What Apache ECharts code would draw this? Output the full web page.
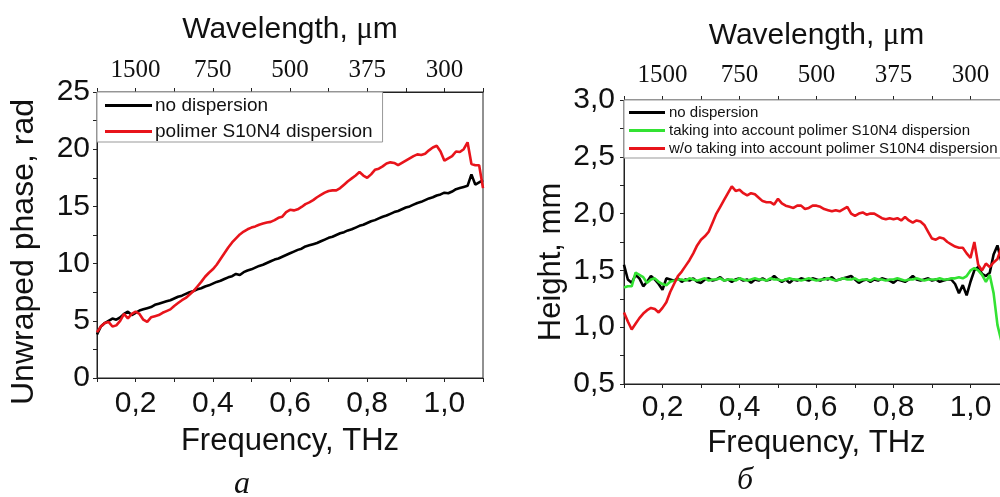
<!DOCTYPE html>
<html><head><meta charset="utf-8">
<script src="https://cdn.jsdelivr.net/npm/echarts@6/dist/echarts.min.js"></script>
<style>html,body{margin:0;padding:0;background:#fff}#c{width:1000px;height:497px}</style>
</head><body><div id="c"></div>
<script>
// Frequency grid, THz
const freq = [0.10,0.11,0.12,0.13,0.14,0.15,0.16,0.17,0.18,0.19,
0.20,0.21,0.22,0.23,0.24,0.25,0.26,0.27,0.28,0.29,
0.30,0.31,0.32,0.33,0.34,0.35,0.36,0.37,0.38,0.39,
0.40,0.41,0.42,0.43,0.44,0.45,0.46,0.47,0.48,0.49,
0.50,0.51,0.52,0.53,0.54,0.55,0.56,0.57,0.58,0.59,
0.60,0.61,0.62,0.63,0.64,0.65,0.66,0.67,0.68,0.69,
0.70,0.71,0.72,0.73,0.74,0.75,0.76,0.77,0.78,0.79,
0.80,0.81,0.82,0.83,0.84,0.85,0.86,0.87,0.88,0.89,
0.90,0.91,0.92,0.93,0.94,0.95,0.96,0.97,0.98,0.99,
1.00,1.01,1.02,1.03,1.04,1.05,1.06,1.07,1.08,1.09,
1.10];

// Panel a: unwrapped phase, rad
const phaseNoDisp = [3.8,4.5,4.8,5.0,5.2,5.1,5.3,5.6,5.8,5.5,
5.7,5.9,6.0,6.1,6.2,6.4,6.5,6.6,6.7,6.8,
6.95,7.1,7.2,7.35,7.5,7.6,7.75,7.85,8.0,8.1,
8.25,8.4,8.5,8.65,8.8,8.9,9.1,9.0,9.25,9.4,
9.5,9.65,9.8,9.9,10.05,10.2,10.35,10.45,10.6,10.75,
10.9,11.05,11.2,11.3,11.5,11.6,11.7,11.8,11.95,12.1,
12.25,12.35,12.5,12.65,12.75,12.9,13.0,13.15,13.3,13.4,
13.55,13.7,13.8,13.95,14.1,14.2,14.35,14.5,14.6,14.75,
14.9,15.0,15.15,15.3,15.4,15.55,15.7,15.8,15.95,16.05,
16.2,16.15,16.3,16.5,16.6,16.7,16.8,17.8,16.9,17.1,
17.3];
const phaseS10N4 = [4.0,4.5,4.8,4.9,4.5,4.6,5.0,5.6,5.2,5.6,
5.8,5.6,5.1,4.9,5.3,5.4,5.5,5.7,5.85,6.0,
6.3,6.55,6.8,7.0,7.3,7.6,8.0,8.4,8.85,9.2,
9.5,9.9,10.4,10.9,11.4,11.85,12.2,12.55,12.8,13.0,
13.15,13.25,13.4,13.5,13.6,13.65,13.8,14.0,14.1,14.5,
14.7,14.65,14.75,14.95,15.2,15.35,15.55,15.8,16.0,16.2,
16.35,16.4,16.4,16.6,16.9,17.2,17.45,17.7,18.0,17.7,
17.5,17.8,18.2,18.3,18.5,18.75,18.85,18.8,18.6,18.8,
19.0,19.2,19.4,19.55,19.5,19.6,19.9,20.15,20.3,19.8,
19.0,19.2,19.4,19.8,19.75,20.0,20.6,18.7,18.6,18.6,
16.6];

// Panel b: height, mm
const heightNoDisp = [1.55,1.42,1.39,1.46,1.43,1.36,1.40,1.45,1.42,1.38,
1.33,1.43,1.42,1.41,1.43,1.40,1.42,1.41,1.43,1.40,
1.39,1.42,1.43,1.41,1.42,1.44,1.41,1.42,1.40,1.42,
1.43,1.41,1.42,1.39,1.42,1.41,1.43,1.41,1.42,1.45,
1.42,1.40,1.42,1.39,1.42,1.41,1.43,1.42,1.41,1.43,
1.42,1.41,1.43,1.42,1.44,1.41,1.42,1.43,1.44,1.45,
1.42,1.39,1.41,1.42,1.40,1.42,1.41,1.43,1.42,1.41,
1.39,1.42,1.41,1.40,1.42,1.45,1.42,1.41,1.42,1.43,
1.41,1.42,1.40,1.41,1.42,1.42,1.38,1.30,1.37,1.28,
1.40,1.50,1.53,1.47,1.45,1.48,1.64,1.72,1.58,1.55,
1.50];
const heightWithDisp = [1.35,1.36,1.36,1.48,1.46,1.44,1.39,1.42,1.43,1.40,
1.38,1.37,1.40,1.41,1.42,1.42,1.41,1.43,1.42,1.41,
1.42,1.43,1.41,1.42,1.42,1.43,1.41,1.42,1.42,1.41,
1.43,1.42,1.41,1.42,1.43,1.42,1.42,1.41,1.43,1.42,
1.42,1.41,1.42,1.43,1.42,1.42,1.41,1.42,1.43,1.42,
1.41,1.42,1.42,1.43,1.42,1.41,1.42,1.43,1.42,1.42,
1.43,1.41,1.42,1.42,1.41,1.43,1.42,1.42,1.41,1.42,
1.42,1.43,1.42,1.41,1.42,1.42,1.43,1.42,1.41,1.42,
1.42,1.42,1.43,1.42,1.42,1.43,1.43,1.44,1.43,1.45,
1.50,1.52,1.50,1.46,1.40,1.46,1.30,1.02,0.88,0.70,
0.55];
const heightWithoutDisp = [1.13,1.05,0.98,1.03,1.08,1.12,1.15,1.17,1.16,1.13,
1.17,1.22,1.31,1.38,1.45,1.49,1.54,1.59,1.65,1.72,
1.77,1.80,1.84,1.92,2.00,2.06,2.12,2.18,2.24,2.20,
2.21,2.18,2.16,2.18,2.17,2.14,2.11,2.10,2.10,2.08,
2.13,2.09,2.07,2.06,2.05,2.07,2.07,2.04,2.05,2.07,
2.07,2.06,2.04,2.03,2.02,2.03,2.02,2.04,2.06,2.00,
1.98,2.00,2.01,1.99,2.00,2.00,1.98,1.96,1.95,1.96,
1.95,1.96,1.94,1.97,1.94,1.92,1.94,1.93,1.90,1.84,
1.78,1.77,1.79,1.78,1.75,1.73,1.71,1.70,1.70,1.65,
1.61,1.75,1.55,1.50,1.56,1.53,1.57,1.60,1.70,1.72,
1.75];

// Tick labels
const freqTicks = [0.2, 0.4, 0.6, 0.8, 1.0];
const freqTickLabels = ['0,2', '0,4', '0,6', '0,8', '1,0'];
const wavelengthTickLabels = ['1500', '750', '500', '375', '300'];

const F = '"Liberation Sans", Arial, sans-serif';
const SERIF = '"Liberation Serif", "Times New Roman", serif';
const AX = '#222';

function tickLookup(labels) {
  return function (v) {
    for (let i = 0; i < freqTicks.length; i++) {
      if (Math.abs(v - freqTicks[i]) < 1e-6) return labels[i];
    }
    return '';
  };
}
const pairs = arr => freq.map((f, i) => [f, arr[i]]);
const comma1 = v => v.toFixed(1).replace('.', ',');

function bottomAxis(grid, gap, margin) {
  return {
    gridIndex: grid, type: 'value', position: 'bottom', min: 0.1, max: 1.1, interval: 0.1,
    axisLine: { show: true, onZero: false, lineStyle: { color: AX, width: 1 } },
    axisTick: { show: true, inside: false, length: 4, lineStyle: { color: AX } },
    axisLabel: { formatter: tickLookup(freqTickLabels), fontSize: 30, fontFamily: F, color: '#111', margin: margin },
    splitLine: { show: false },
    name: 'Frequency, THz', nameLocation: 'middle', nameGap: gap,
    nameTextStyle: { fontSize: 31, fontFamily: F, color: '#111' }
  };
}
function topAxis(grid, gap, margin) {
  return {
    gridIndex: grid, type: 'value', position: 'top', min: 0.1, max: 1.1, interval: 0.1,
    axisLine: { show: true, onZero: false, lineStyle: { color: AX, width: 1 } },
    axisTick: { show: true, inside: false, length: 4, lineStyle: { color: AX } },
    axisLabel: { formatter: tickLookup(wavelengthTickLabels), fontSize: 25, fontFamily: SERIF, color: '#111', margin: margin },
    splitLine: { show: false },
    name: '{a|Wavelength, }{b|μ}{a|m}', nameLocation: 'middle', nameGap: gap,
    nameTextStyle: {
      fontSize: 30, fontFamily: F, color: '#111',
      rich: { a: { fontSize: 30, fontFamily: F, color: '#111' }, b: { fontSize: 31, fontFamily: SERIF, color: '#111' } }
    }
  };
}

const chart = echarts.init(document.getElementById('c'), null, { renderer: 'canvas' });
chart.setOption({
  animation: false,
  backgroundColor: '#fff',
  grid: [
    { left: 97, top: 92, width: 386, height: 286, show: true, borderColor: AX, borderWidth: 1, backgroundColor: 'transparent', outerBoundsMode: 'none', containLabel: false },
    { left: 624, top: 100, width: 385, height: 284, show: true, borderColor: AX, borderWidth: 1, backgroundColor: 'transparent', outerBoundsMode: 'none', containLabel: false }
  ],
  xAxis: [
    bottomAxis(0, 48, 11), topAxis(0, 47, 9),
    bottomAxis(1, 44, 9), topAxis(1, 49, 12)
  ],
  yAxis: [
    {
      gridIndex: 0, type: 'value', min: 0, max: 25, interval: 5,
      axisLine: { show: true, lineStyle: { color: AX, width: 1 } },
      axisTick: { show: true, inside: false, length: 4, lineStyle: { color: AX } },
      minorTick: { show: true, splitNumber: 2, length: 4, lineStyle: { color: AX } },
      axisLabel: { fontSize: 30, fontFamily: F, color: '#111', margin: 7 },
      splitLine: { show: false },
      name: 'Unwraped phase, rad', nameLocation: 'middle', nameGap: 57,
      nameTextStyle: { fontSize: 32, fontFamily: F, color: '#111', padding: [0, 34, 0, 0] }
    },
    {
      gridIndex: 1, type: 'value', min: 0.5, max: 3.0, interval: 0.5,
      axisLine: { show: true, lineStyle: { color: AX, width: 1 } },
      axisTick: { show: true, inside: false, length: 4, lineStyle: { color: AX } },
      minorTick: { show: true, splitNumber: 2, length: 4, lineStyle: { color: AX } },
      axisLabel: { fontSize: 30, fontFamily: F, color: '#111', margin: 9, formatter: comma1 },
      splitLine: { show: false },
      name: 'Height, mm', nameLocation: 'middle', nameGap: 57,
      nameTextStyle: { fontSize: 31, fontFamily: F, color: '#111', padding: [0, 40, 0, 0] }
    }
  ],
  legend: [
    {
      left: 97, top: 92, orient: 'vertical', icon: 'rect', itemWidth: 47, itemHeight: 3, itemGap: 7,
      data: ['no dispersion', 'polimer S10N4 dispersion'],
      textStyle: { fontSize: 19, fontFamily: F, color: '#111', padding: [0, 0, 0, -2] },
      padding: [4, 10, 1, 8], borderColor: '#999', borderWidth: 1, backgroundColor: '#fff',
      selectedMode: false
    },
    {
      left: 624, top: 100, orient: 'vertical', icon: 'rect', itemWidth: 36, itemHeight: 3, itemGap: 3,
      data: ['no dispersion', 'taking into account polimer S10N4 dispersion', 'w/o taking into account polimer S10N4 dispersion'],
      textStyle: { fontSize: 15, fontFamily: F, color: '#111', padding: [0, 0, 0, -1] },
      padding: [5, 10, 2, 5], borderColor: '#999', borderWidth: 1, backgroundColor: '#fff',
      selectedMode: false
    }
  ],
  graphic: [
    { type: 'text', x: 242, y: 485, style: { text: 'а', font: 'italic 32px "Liberation Serif", serif', fill: '#111', textAlign: 'center', textVerticalAlign: 'middle' } },
    { type: 'text', x: 745, y: 481, style: { text: 'б', font: 'italic 32px "Liberation Serif", serif', fill: '#111', textAlign: 'center', textVerticalAlign: 'middle' } }
  ],
  series: [
    { name: 'no dispersion', type: 'line', xAxisIndex: 0, yAxisIndex: 0, data: pairs(phaseNoDisp), showSymbol: false,
      color: '#000', lineStyle: { color: '#000', width: 2.6 }, z: 3 },
    { name: 'polimer S10N4 dispersion', type: 'line', xAxisIndex: 0, yAxisIndex: 0, data: pairs(phaseS10N4), showSymbol: false,
      color: '#e8141b', lineStyle: { color: '#e8141b', width: 2.6 }, z: 4 },
    { name: 'no dispersion', type: 'line', xAxisIndex: 2, yAxisIndex: 1, data: pairs(heightNoDisp), showSymbol: false,
      color: '#000', lineStyle: { color: '#000', width: 2.6 }, z: 3 },
    { name: 'taking into account polimer S10N4 dispersion', type: 'line', xAxisIndex: 2, yAxisIndex: 1, data: pairs(heightWithDisp), showSymbol: false,
      color: '#33e233', lineStyle: { color: '#33e233', width: 2.6 }, z: 4 },
    { name: 'w/o taking into account polimer S10N4 dispersion', type: 'line', xAxisIndex: 2, yAxisIndex: 1, data: pairs(heightWithoutDisp), showSymbol: false,
      color: '#e8141b', lineStyle: { color: '#e8141b', width: 2.6 }, z: 5 }
  ]
});
</script>
</body></html>
